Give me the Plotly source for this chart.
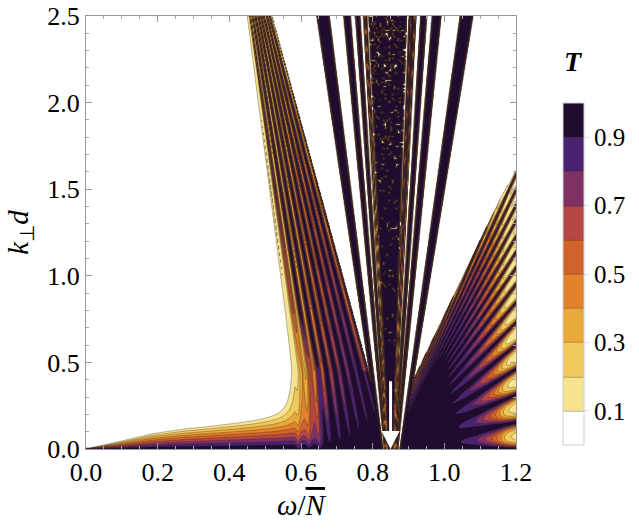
import numpy as np
import plotly.graph_objects as go

# --- axes and legend
omega_ticks = [0.0, 0.2, 0.4, 0.6, 0.8, 1.0, 1.2]
k_ticks = [0.0, 0.5, 1.0, 1.5, 2.0, 2.5]
legend_ticks = [0.1, 0.3, 0.5, 0.7, 0.9]
band_colours = ["#ffffff", "#f6e390", "#f0c85c", "#e9a83a", "#e2822a",
                "#d0622b", "#b44644", "#7f3164", "#4a2270", "#1f0c2e"]

# --- landmarks of the transmission map
omega_arrow = 0.85          # apex of the fans, marked by the arrow
arrow_top = 0.40

# lower edge of the white region (thin strip at small k)
strip_omega = [0.0, 0.092, 0.184, 0.276, 0.368, 0.46, 0.533, 0.65]
strip_k = [0.0, 0.042, 0.087, 0.114, 0.133, 0.152, 0.168, 0.20]

# left edge of the tongue, and how fast T falls off towards it
tongue_edge_k = [0.0, 0.45, 2.5]
tongue_edge_omega = [0.578, 0.578, 0.45]
tongue_fade_k = [0.0, 0.4, 0.8, 1.5, 2.5]
tongue_fade = [0.10, 0.09, 0.04, 0.02, 0.012]
# depth of the fringes inside the tongue, at its left and right side,
# and how narrow the fringe minima are
tongue_depth_k = [0.0, 0.15, 0.6, 1.0, 1.44, 2.0, 2.5]
tongue_depth_left = [0.1, 0.5, 3.0, 4.0, 4.5, 6.0, 7.0]
tongue_depth_right = [0.05, 0.1, 0.2, 0.45, 0.9, 2.0, 4.0]
tongue_sharp_k = [0.0, 1.2, 2.5]
tongue_sharp = [2.0, 2.0, 1.0]
tongue_fringes = 9

# white wedges either side of the central fan: tip, and omega of each edge at k = 2.5
wedge_left_tip = [0.795, 0.40]
wedge_left_top = [0.52, 0.645]
wedge_right_tip = [0.913, 0.40]
wedge_right_top = [1.079, 1.40]

# white gaps across the central fan (fraction of its width)
centre_gaps = [(0.076, 0.173), (0.212, 0.249), (0.274, 0.300), (0.306, 0.311),
               (0.318, 0.334), (0.574, 0.593), (0.602, 0.607), (0.623, 0.628),
               (0.634, 0.668), (0.703, 0.742), (0.795, 0.922)]
speckle_span = (0.334, 0.574)
speckle_k = [0.0, 0.8, 1.5, 2.5]
speckle_level = [1.0, 0.998, 0.95, 0.72]

# right fan: k of the fringe minima at omega = 1.2, and their depth along omega
fan_trough_k = [0.071, 0.236, 0.39, 0.533, 0.668, 0.79, 0.9, 1.0, 1.09, 1.18]
fan_depth_omega = [0.85, 0.95, 1.0, 1.04, 1.09, 1.11, 1.13, 1.145, 1.16, 1.18, 1.2]
fan_depth = [0.0, 0.02, 0.05, 0.09, 0.21, 0.36, 0.56, 0.85, 1.5, 3.2, 4.6]

# --- build T on a grid
om = np.linspace(0, 1.2, 481)
kk = np.linspace(0, 2.5, 434)
W, K = np.meshgrid(om, kk)
cell = om[1] - om[0]


def edge(tip, top, k):
    return tip[0] + (top - tip[0]) * (k - tip[1]) / (2.5 - tip[1])


def inside(d):
    # soft 0/1 step over one grid cell, d = distance inside (omega units)
    return np.clip(d / cell + 0.5, 0, 1)


w_lw = edge(wedge_left_tip, wedge_left_top[0], K)
w_lc = edge(wedge_left_tip, wedge_left_top[1], K)
w_rc = edge(wedge_right_tip, wedge_right_top[0], K)
w_rw = edge(wedge_right_tip, wedge_right_top[1], K)

# evanescent side (strip + tongue edge)
ke = np.interp(W, strip_omega, strip_k)
x_strip = np.maximum(K / np.maximum(ke, 1e-4), 1e-3)
w_edge = np.interp(K, tongue_edge_k, tongue_edge_omega)
x_tongue = np.maximum(1 + (w_edge - W) / np.interp(K, tongue_fade_k, tongue_fade), 1e-3)
x = (x_strip ** -2.5 + x_tongue ** -2.5) ** -0.4
te = np.where(x <= 1, 1 - 0.9 * x ** 1.1, 0.1 * np.exp(-6 * (x - 1)))
E = 1 / np.maximum(te, 1e-4) - 1

# fringes in the tongue
t = (W - w_edge) / (w_lw - w_edge)
tt = np.clip(t, 0, 1)
d_l = np.interp(K, tongue_depth_k, tongue_depth_left)
d_r = np.interp(K, tongue_depth_k, tongue_depth_right)
F_left = (d_r + (d_l - d_r) * (1 - tt) ** 2) * np.clip(t / 0.03, 0, 1)
F_left = F_left + 2.0 * np.exp(-np.abs(w_lw - W) / 0.008) * (K > 0.45)
fr_left = np.sin(np.pi * tongue_fringes * t) ** 2
fr_left = fr_left ** np.interp(K, tongue_sharp_k, tongue_sharp)

# fringes in the right fan
s_tr = np.array(fan_trough_k) / (1.2 - omega_arrow)
n_tr = np.arange(len(s_tr)) + 0.5
s = K / np.maximum(W - omega_arrow, 1e-3)
n = np.interp(s, np.r_[0, s_tr], np.r_[0, n_tr])
n = np.where(s > s_tr[-1], n_tr[-1] + (s - s_tr[-1]) / (s_tr[-1] - s_tr[-2]), n)
F_right = np.interp(W, fan_depth_omega, fan_depth) * (1 + 0.35 * np.minimum(s, 6))
F_right = F_right + 3 * np.exp(-np.abs(W - w_rw) / 0.01)
fr_right = np.sin(np.pi * n) ** 2

left = W < omega_arrow
fringe = np.where(left, F_left * fr_left, F_right * fr_right)
wedge = (inside(np.minimum(W - w_lw, w_lc - W))
         + inside(np.minimum(W - w_rc, w_rw - W)))
T = 1 / (1 + E * left + 60 * wedge + fringe)

# central fan: dark bands, white gaps, speckled core
width = w_rc - w_lc
tc = (W - w_lc) / width
gap = np.zeros_like(T)
for g0, g1 in centre_gaps:
    gap = np.maximum(gap, inside(np.minimum(tc - g0, g1 - tc) * width))
Tc = 0.965 - 0.945 * gap
cw = np.floor(W / (2 * cell))
ck = np.floor(K / (2 * (kk[1] - kk[0])))
speck = np.sin(np.sin(cw * 12.9898 + ck * 78.233) * 43758.5453)
in_speck = (tc > speckle_span[0]) & (tc < speckle_span[1])
Tc = np.where(in_speck & (speck > np.interp(K, speckle_k, speckle_level)), 0.02, Tc)
centre = inside(np.minimum(W - w_lc, w_rc - W))
T = T + (Tc - T) * centre
T = np.round(T, 3)

scale = []
for i, c in enumerate(band_colours):
    scale.append([i / 10, c])
    scale.append([(i + 1) / 10, c])

font = "Liberation Serif"
fig = go.Figure(
    go.Contour(
        x=om,
        y=kk,
        z=T,
        zmin=0,
        zmax=1,
        colorscale=scale,
        contours=dict(start=0.1, end=0.9, size=0.1, coloring="fill", showlines=True),
        line=dict(color="rgba(50,35,30,0.55)", width=0.6),
        hoverinfo="skip",
        colorbar=dict(
            x=1.110, xanchor="left", xpad=0, y=0.404, yanchor="middle", ypad=0,
            len=0.79, thickness=21,
            outlinecolor="#d0d0d0", outlinewidth=1,
            tickvals=legend_ticks, ticktext=["%.1f" % v for v in legend_ticks],
            ticks="outside", ticklen=5, tickcolor="#e0e0e0",
            tickfont=dict(family=font, size=25, color="black"),
        ),
    )
)

fig.add_annotation(
    x=omega_arrow, y=0.0, ax=omega_arrow, ay=arrow_top,
    xref="x", yref="y", axref="x", ayref="y",
    text="", showarrow=True, arrowhead=2, arrowsize=1.2,
    arrowwidth=3, arrowcolor="white", standoff=0,
)
fig.add_annotation(
    x=1.134, y=0.894, xref="paper", yref="paper", showarrow=False,
    xanchor="center", yanchor="middle",
    text="<b><i>T</i></b>", font=dict(family=font, size=28, color="black"),
)

axis_common = dict(
    ticks="inside", ticklen=6, tickcolor="#999999", tickwidth=1,
    showline=True, linecolor="#999999", linewidth=1, mirror="ticks",
    showgrid=False, zeroline=False, tickformat=".1f", automargin=False,
    tickfont=dict(family=font, size=26, color="black"),
)
fig.update_xaxes(
    range=[0, 1.2], tickvals=omega_ticks,
    minor=dict(ticks="inside", ticklen=3, dtick=0.05, tickcolor="#aaaaaa"),
    title=dict(text="<i>ω</i>/<span style='text-decoration:overline'><i>N</i></span>",
               font=dict(family=font, size=29, color="black"), standoff=8),
    **axis_common,
)
fig.update_yaxes(
    range=[0, 2.5], tickvals=k_ticks,
    minor=dict(ticks="inside", ticklen=3, dtick=0.1, tickcolor="#aaaaaa"),
    title=dict(text="<i>k</i><sub>⊥</sub><i>d</i>",
               font=dict(family=font, size=29, color="black"), standoff=10),
    **axis_common,
)
fig.update_layout(
    width=639, height=529,
    margin=dict(l=86, r=118, t=16, b=80),
    paper_bgcolor="white", plot_bgcolor="white",
    showlegend=False,
)

fig.write_html("out.html", config={"displayModeBar": False},
               post_script="document.body.style.margin='0';")
